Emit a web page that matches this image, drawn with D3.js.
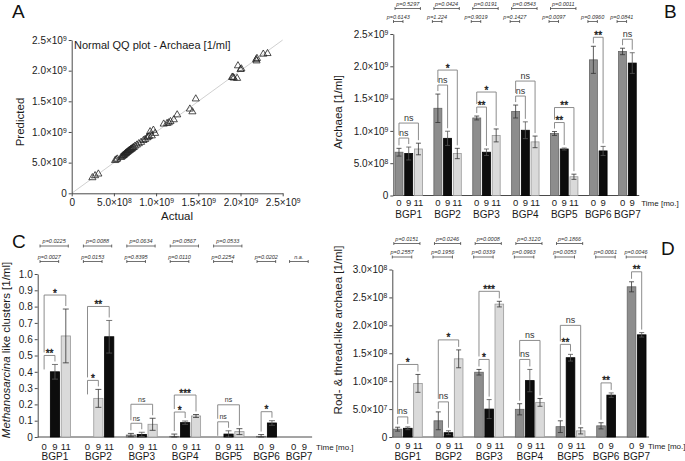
<!DOCTYPE html>
<html><head><meta charset="utf-8">
<script src="https://cdn.jsdelivr.net/npm/d3@7"></script>
<style>
body{margin:0;background:#fff;}
svg{display:block;font-family:"Liberation Sans",Arial,Helvetica,sans-serif;}
</style></head><body>
<svg id="chart" width="685" height="461"></svg>
<script>
// ================= DATA =================
const groups = ["BGP1","BGP2","BGP3","BGP4","BGP5","BGP6","BGP7"];
const timePoints = ["0","9","11"];

// Panel A: Normal QQ plot - Archaea [1/ml]
const qqActual = [0.245e9,0.277e9,0.316e9,0.514e9,0.528e9,0.541e9,0.585e9,0.598e9,0.607e9,0.615e9,0.624e9,0.632e9,0.640e9,0.648e9,0.655e9,0.663e9,0.671e9,0.679e9,0.688e9,0.697e9,0.705e9,0.714e9,0.724e9,0.735e9,0.750e9,0.772e9,0.795e9,0.822e9,0.850e9,0.870e9,0.893e9,0.905e9,0.917e9,0.929e9,0.949e9,0.968e9,0.988e9,1.090e9,1.130e9,1.150e9,1.170e9,1.210e9,1.250e9,1.400e9,1.430e9,1.470e9,1.900e9,1.910e9,1.920e9,1.960e9,1.970e9,2.000e9,2.010e9,2.185e9,2.190e9,2.195e9,2.270e9,2.320e9];
const qqPredicted = [0.255e9,0.288e9,0.315e9,0.535e9,0.548e9,0.560e9,0.585e9,0.600e9,0.612e9,0.618e9,0.630e9,0.640e9,0.652e9,0.658e9,0.668e9,0.675e9,0.686e9,0.694e9,0.702e9,0.712e9,0.720e9,0.728e9,0.740e9,0.748e9,0.770e9,0.788e9,0.810e9,0.832e9,0.862e9,0.878e9,0.905e9,0.918e9,0.930e9,1.005e9,0.938e9,1.030e9,0.978e9,1.130e9,1.140e9,1.150e9,1.170e9,1.200e9,1.280e9,1.375e9,1.330e9,1.540e9,1.890e9,1.895e9,1.880e9,1.875e9,2.080e9,2.020e9,2.030e9,2.180e9,2.160e9,2.200e9,2.270e9,2.280e9];
const qqTicks = [0,5e8,1e9,1.5e9,2e9,2.5e9];

// Panel B: Archaea [1/ml]
const archaeaT0     = [0.67e9,1.35e9,1.20e9,1.30e9,0.96e9,2.10e9,2.23e9];
const archaeaT0Err  = [0.06e9,0.22e9,0.03e9,0.10e9,0.03e9,0.21e9,0.05e9];
const archaeaT9     = [0.65e9,0.885e9,0.67e9,1.01e9,0.72e9,0.69e9,2.05e9];
const archaeaT9Err  = [0.10e9,0.11e9,0.05e9,0.13e9,0.015e9,0.07e9,0.16e9];
const archaeaT11    = [0.72e9,0.65e9,0.93e9,0.83e9,0.29e9,null,null];
const archaeaT11Err = [0.09e9,0.08e9,0.10e9,0.09e9,0.04e9,null,null];
const archaeaSig0v9  = ["ns","ns","**","ns","**","**","ns"];
const archaeaSig0v11 = ["ns","*","*","ns","**",null,null];
const archaeaP0v11 = ["p=0.5297","p=0.0424","p=0.0191","p=0.0543","p=0.0011",null,null];
const archaeaP0v9  = ["p=0.6143","p=1.224","p=0.9019","p=0.1427","p=0.0097","p=0.0960","p=0.0841"];
const archaeaTicks = [0,5e8,1e9,1.5e9,2e9,2.5e9];

// Panel C: Methanosarcina like clusters [1/ml]
const methT0     = [0,0,0.012,0.004,0,0.004,0];
const methT0Err  = [0,0,0.010,0.014,0,0.011,0];
const methT9     = [0.40,0.237,0.016,0.088,0.018,0.086,0];
const methT9Err  = [0.045,0.055,0.013,0.010,0.020,0.014,0];
const methT11    = [0.62,0.615,0.078,0.129,0.033,null,null];
const methT11Err = [0.165,0.10,0.037,0.009,0.018,null,null];
const methSig0v9  = ["**","*","ns","*","ns","*",null];
const methSig0v11 = ["*","**","ns","***","ns",null,null];
const methP0v11 = ["p=0.0225","p=0.0088","p=0.0634","p=0.0567","p=0.0533",null,null];
const methP0v9  = ["p=0.0027","p=0.0153","p=0.8395","p=0.0110","p=0.2254","p=0.0202","n.a."];
const methTicks = [0,0.1,0.2,0.3,0.4,0.5,0.6,0.7,0.8,0.9,1.0];

// Panel D: Rod- & thread-like archaea [1/ml]
const rodT0     = [1.4e7,2.9e7,11.6e7,4.96e7,1.85e7,2.0e7,26.9e7];
const rodT0Err  = [0.35e7,1.6e7,0.5e7,1.0e7,1.05e7,0.55e7,0.9e7];
const rodT9     = [1.56e7,0.77e7,5.0e7,10.1e7,14.2e7,7.5e7,18.3e7];
const rodT9Err  = [0.25e7,0.35e7,1.7e7,2.0e7,0.6e7,0.4e7,0.4e7];
const rodT11    = [9.6e7,14.0e7,23.8e7,6.2e7,1.1e7,null,null];
const rodT11Err = [1.6e7,1.6e7,0.5e7,0.7e7,0.55e7,null,null];
const rodSig0v9  = ["ns","ns","*","ns","**","**","**"];
const rodSig0v11 = ["*","*","***","ns","ns",null,null];
const rodP0v11 = ["p=0.0151","p=0.0246","p=0.0008","p=0.3120","p=0.1866",null,null];
const rodP0v9  = ["p=0.2557","p=0.1956","p=0.0339","p=0.0963","p=0.0053","p=0.0061","p=0.0046"];
const rodTicks = [0,5e7,1e8,1.5e8,2e8,2.5e8,3e8];

// ================= DRAWING =================
const FONT = '"Liberation Sans", Arial, Helvetica, sans-serif';
const AXIS = "#4a4a4a";
const TXT = "#1a1a1a";
const svg = d3.select("#chart");
const barFill = {"0":"#8d8d8d","9":"#0d0d0d","11":"#dadada"};
const barStroke = {"0":"#666","9":"#000","11":"#9a9a9a"};

function sciText(textSel, d) {
  textSel.text(null);
  if (d === 0) { textSel.text("0"); return; }
  const e = Math.floor(Math.log10(d) + 1e-9);
  const m = d / Math.pow(10, e);
  textSel.append("tspan").text(m.toFixed(1) + "×10");
  textSel.append("tspan").attr("dy", "-0.45em").attr("font-size", "0.68em").text(e);
}
function styleAxis(ax, fmt) {
  ax.attr("font-family", FONT).attr("font-size", 10);
  ax.select(".domain").attr("stroke", AXIS).attr("stroke-width", 1);
  ax.selectAll(".tick line").attr("stroke", AXIS);
  ax.selectAll(".tick text").attr("fill", TXT).each(function(d){
    const t = d3.select(this);
    if (fmt === "sci") sciText(t, d);
    else t.text(d === 0 ? "0" : d3.format(".1f")(d));
  });
}
function panelLetter(t, x, y) {
  svg.append("text").attr("x", x).attr("y", y).attr("font-size", 19)
    .attr("font-family", FONT).attr("fill", "#111").text(t);
}

// ---------- Panel A ----------
(function(){
  const g = svg.append("g");
  const x = d3.scaleLinear().domain([0,2.5e9]).range([71.7,282.7]);
  const y = d3.scaleLinear().domain([0,2.5e9]).range([193.3,40]);
  g.append("line").attr("x1", x(0)).attr("y1", y(0)).attr("x2", x(2.5e9)).attr("y2", y(2.5e9))
    .attr("stroke", "#c4c4c4").attr("stroke-width", 0.8);
  const ay = g.append("g").attr("transform", `translate(${x(0)},0)`)
    .call(d3.axisLeft(y).tickValues(qqTicks).tickSize(3).tickPadding(2).tickSizeOuter(0));
  styleAxis(ay, "sci");
  const axb = g.append("g").attr("transform", `translate(0,${y(0)})`)
    .call(d3.axisBottom(x).tickValues(qqTicks).tickSize(3).tickPadding(3).tickSizeOuter(0));
  styleAxis(axb, "sci");
  const tri = d3.symbol().type(d3.symbolTriangle).size(22);
  g.selectAll("path.pt").data(qqActual.map((a,i)=>[a, qqPredicted[i]])).join("path")
    .attr("class","pt").attr("d", tri)
    .attr("transform", d => `translate(${x(d[0])},${y(d[1])})`)
    .attr("fill", "none").attr("stroke", "#222").attr("stroke-width", 0.8);
  g.append("text").attr("x", 74).attr("y", 49).attr("font-size", 11).attr("fill", TXT)
    .text("Normal QQ plot - Archaea [1/ml]");
  g.append("text").attr("transform", "translate(24,122) rotate(-90)").attr("text-anchor","middle")
    .attr("font-size", 11.5).attr("fill", TXT).text("Predicted");
  g.append("text").attr("x", 177).attr("y", 220).attr("text-anchor","middle")
    .attr("font-size", 11.5).attr("fill", TXT).text("Actual");
  panelLetter("A", 12, 18);
})();

// ---------- Bar panels ----------
function barPanel(o) {
  const g = svg.append("g");
  const slots = [], bars = [];
  groups.forEach((gr, gi) => {
    timePoints.forEach((t, ti) => {
      const v = o.means[ti][gi];
      if (v === null || v === undefined) return;
      const key = gr + "|" + t;
      slots.push(key);
      bars.push({gr, gi, t, ti, v, e: o.errs[ti][gi] || 0, key});
    });
    if (gi < groups.length - 1) slots.push(gr + "|gap");
  });
  const n = slots.length;
  const x = d3.scaleBand().domain(slots)
    .range([o.xStart, o.xStart + o.step * (n - o.padInner)])
    .paddingInner(o.padInner).paddingOuter(0);
  const bw = x.bandwidth();
  const cx = k => x(k) + bw / 2;
  const y = d3.scaleLinear().domain(o.yDomain).range(o.yRange);
  const xEnd = x.range()[1] + 3;

  // axes
  const ay = g.append("g").attr("transform", `translate(${o.axisX},0)`)
    .call(d3.axisLeft(y).tickValues(o.yTicks).tickSize(3).tickPadding(2).tickSizeOuter(0));
  styleAxis(ay, o.fmt);
  g.append("line").attr("x1", o.axisX).attr("x2", xEnd).attr("y1", y(0)).attr("y2", y(0))
    .attr("stroke", AXIS).attr("stroke-width", 1);

  const colorKey = b => {
    if (o.swap && o.swap.includes(b.gr)) return b.t === "9" ? "11" : (b.t === "11" ? "9" : b.t);
    return b.t;
  };
  // bars
  g.selectAll("rect.bar").data(bars.filter(b => b.v > 0)).join("rect")
    .attr("class","bar")
    .attr("x", b => x(b.key)).attr("width", bw)
    .attr("y", b => y(b.v)).attr("height", b => y(0) - y(b.v))
    .attr("fill", b => barFill[colorKey(b)]).attr("stroke", b => barStroke[colorKey(b)])
    .attr("stroke-width", 0.8);
  // error bars
  const eb = bars.filter(b => b.e > 0);
  const cw = o.capW / 2;
  g.selectAll("path.err").data(eb).join("path").attr("class","err")
    .attr("d", b => {
      const c = cx(b.key), lo = y(Math.max(0, b.v - b.e)), hi = y(b.v + b.e);
      return `M${c},${lo}V${hi}M${c-cw},${hi}H${c+cw}M${c-cw},${lo}H${c+cw}`;
    })
    .attr("fill","none").attr("stroke", b => colorKey(b) === "9" ? "#555" : "#333").attr("stroke-width", 0.8);

  // time labels
  g.selectAll("text.tl").data(bars).join("text").attr("class","tl")
    .attr("x", b => cx(b.key)).attr("y", o.timeY).attr("text-anchor","middle")
    .attr("font-size", 9.5).attr("fill", TXT).text(b => b.t);
  // group labels
  groups.forEach((gr, gi) => {
    const gb = bars.filter(b => b.gi === gi);
    const mid = (x(gb[0].key) + x(gb[gb.length-1].key) + bw) / 2;
    g.append("text").attr("x", mid).attr("y", o.groupY).attr("text-anchor","middle")
      .attr("font-size", 10).attr("fill", TXT).text(gr);
  });
  g.append("text").attr("x", xEnd + o.timeDx).attr("y", o.timeY).attr("font-size", 8)
    .attr("fill", TXT).text("Time [mo.]");

  // y title
  const yt = g.append("text").attr("transform", `translate(${o.titleX},${o.titleY}) rotate(-90)`)
    .attr("text-anchor","middle").attr("font-size", 11.5).attr("fill", TXT);
  o.title.forEach(s => yt.append("tspan").attr("font-style", s.it ? "italic" : null).text(s.t));

  // significance brackets
  const topY = b => y(b.v + b.e);
  const legEnd = (b, by) => Math.max(b.v > 0 ? topY(b) - 3 : by + o.zeroLeg, by + 2);
  function bracket(x1, x2, by, l1, l2, label) {
    g.append("path").attr("d", `M${x1},${l1}V${by}H${x2}V${l2}`)
      .attr("fill","none").attr("stroke","#808080").attr("stroke-width", 0.9);
    const star = label.indexOf("*") >= 0;
    const t = g.append("text").attr("x", (x1 + x2) / 2).attr("y", star ? by + 1.5 : by - 2.5)
      .attr("text-anchor","middle").attr("font-size", star ? 10 : o.nsSize)
      .attr("fill", star ? TXT : "#333").text(label);
    if (star) t.attr("stroke", TXT).attr("stroke-width", 0.35);
  }
  groups.forEach((gr, gi) => {
    const b0 = bars.find(b => b.gi === gi && b.t === "0");
    const b9 = bars.find(b => b.gi === gi && b.t === "9");
    const b11 = bars.find(b => b.gi === gi && b.t === "11");
    let innerY = null;
    if (o.sigInner[gi]) {
      const tops = [b0, b9].filter(b => b.v > 0).map(topY);
      innerY = Math.min(...tops) - o.gap;
      bracket(cx(b0.key), cx(b9.key), innerY, legEnd(b0, innerY), legEnd(b9, innerY), o.sigInner[gi]);
    }
    if (o.sigOuter[gi]) {
      let oy = topY(b11) - o.outerGap;
      if (innerY !== null) oy = Math.min(oy, innerY - o.diff);
      const l1 = innerY !== null ? innerY - 3 : legEnd(b0, oy);
      bracket(cx(b0.key), cx(b11.key), oy, l1, legEnd(b11, oy), o.sigOuter[gi]);
    }
    // p-value rows
    function pLine(x1, x2, ly, txt) {
      g.append("path").attr("d", `M${x1},${ly-1.5}V${ly+1.5}M${x1},${ly}H${x2}M${x2},${ly-1.5}V${ly+1.5}`)
        .attr("stroke","#333").attr("stroke-width", 0.7).attr("fill","none");
      g.append("text").attr("x", (x1 + x2) / 2).attr("y", ly - 3).attr("text-anchor","middle")
        .attr("font-size", 5.5).attr("font-style","italic").attr("fill","#333").text(txt);
    }
    if (o.pTop[gi]) pLine(x(b0.key) + o.p1[0], cx(b11.key) + o.p1[1], o.pY[0], o.pTop[gi]);
    if (o.pBot[gi]) {
      const x1 = x(b0.key) + o.p2[0];
      const x2 = o.p2w ? x1 + o.p2w : cx(b9.key) + o.p2[1];
      pLine(x1, x2, o.pY[1], o.pBot[gi]);
    }
  });
}

barPanel({
  means: [archaeaT0, archaeaT9, archaeaT11], errs: [archaeaT0Err, archaeaT9Err, archaeaT11Err],
  sigInner: archaeaSig0v9, sigOuter: archaeaSig0v11, pTop: archaeaP0v11, pBot: archaeaP0v9,
  xStart: 395, step: 9.72, padInner: 0.18, yDomain: [0, 2.5e9], yRange: [195.5, 34], yTicks: archaeaTicks,
  fmt: "sci", axisX: 393.3, timeY: 206.3, groupY: 218, titleX: 342, titleY: 112, timeDx: 2,
  title: [{t: "Archaea [1/ml]"}], pY: [8.5, 21.5], gap: 9, diff: 15, outerGap: 9, nsSize: 9,
  zeroLeg: 14, p1: [0, 2], p2: [-1.5, 0], p2w: 9.5, capW: 5
});
barPanel({
  means: [methT0, methT9, methT11], errs: [methT0Err, methT9Err, methT11Err],
  sigInner: methSig0v9, sigOuter: methSig0v11, pTop: methP0v11, pBot: methP0v9,
  xStart: 39.5, step: 10.85, padInner: 0.15, yDomain: [0, 1], yRange: [437, 274], yTicks: methTicks,
  fmt: "dec", axisX: 37.7, timeY: 450, groupY: 459.5, titleX: 10, titleY: 350, timeDx: 4,
  title: [{t: "Methanosarcina", it: true}, {t: " like clusters [1/ml]"}], pY: [246, 261.5],
  gap: 9, diff: 17, outerGap: 14, nsSize: 7, zeroLeg: 14, p1: [0.5, 2.5], p2: [0.5, 3.7], capW: 6,
  swap: ["BGP2"]
});
barPanel({
  means: [rodT0, rodT9, rodT11], errs: [rodT0Err, rodT9Err, rodT11Err],
  sigInner: rodSig0v9, sigOuter: rodSig0v11, pTop: rodP0v11, pBot: rodP0v9,
  xStart: 393.3, step: 10.17, padInner: 0.15, yDomain: [0, 3e8], yRange: [437, 269.5], yTicks: rodTicks,
  fmt: "sci", axisX: 392.3, timeY: 448.5, groupY: 459.5, titleX: 342, titleY: 330, timeDx: -1,
  title: [{t: "Rod- & thread-like archaea [1/ml]"}], pY: [243.5, 257], gap: 10, diff: 19, outerGap: 10,
  nsSize: 9, zeroLeg: 14, p1: [0.5, 2], p2: [-1, 4], capW: 5
});
panelLetter("B", 664, 18);
panelLetter("C", 12, 248);
panelLetter("D", 661, 255);
</script>
</body></html>
